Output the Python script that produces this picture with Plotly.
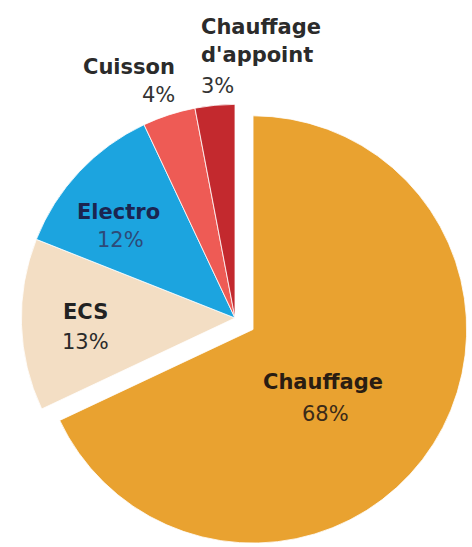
import plotly.graph_objects as go

W, H = 472, 560  # figure slightly taller than the 547 window; the bottom overflows

labels = ["Chauffage", "ECS", "Electro", "Cuisson", "Chauffage d'appoint"]
values = [68, 13, 12, 4, 3]
pcts = ["68%", "13%", "12%", "4%", "3%"]
colors = ["#E9A230", "#F3DEC4", "#1CA4DF", "#EE5B55", "#C3292E"]
pulls = [0.1, 0, 0, 0, 0]

# pie box in pixels (left, top, right, bottom)
BOX = (0, 83, 470, 553)

fig = go.Figure(go.Pie(
    labels=labels, values=values, sort=False, direction="clockwise", rotation=0,
    pull=pulls, marker=dict(colors=colors, line=dict(color="white", width=0.8)),
    textinfo="none", hoverinfo="label+percent", showlegend=False,
    domain=dict(x=[BOX[0] / W, BOX[2] / W], y=[1 - BOX[3] / H, 1 - BOX[1] / H]),
))

def px(x, y):
    return x / W, 1 - y / H

FAM = "DejaVu Sans, sans-serif"

# (text, x, y, anchor, color, bold)
ann_specs = [
    (labels[0], 323, 382, "center", "#2a1d12", True),
    (pcts[0], 325, 414, "center", "#3a2a18", False),
    (labels[1], 85, 312, "center", "#222222", True),
    (pcts[1], 85, 342, "center", "#2a2a2a", False),
    (labels[2], 118, 212, "center", "#1b2550", True),
    (pcts[2], 120, 240, "center", "#2d4a78", False),
    (labels[3], 177, 67, "right", "#2b2b2b", True),
    (pcts[3], 177, 95, "right", "#333333", False),
    ("Chauffage", 199, 27, "left", "#2b2b2b", True),
    ("d'appoint", 199, 55, "left", "#2b2b2b", True),
    (pcts[4], 199, 86, "left", "#333333", False),
]

annotations = []
for text, x, y, anchor, col, bold in ann_specs:
    ax, ay = px(x, y)
    annotations.append(dict(
        text=text, x=ax, y=ay, xref="paper", yref="paper",
        xanchor=anchor, yanchor="middle", showarrow=False,
        font=dict(family=FAM, size=21, color=col,
                  weight="bold" if bold else "normal"),
    ))

fig.update_layout(
    width=W, height=H, margin=dict(l=0, r=0, t=0, b=0),
    paper_bgcolor="white", plot_bgcolor="white",
    annotations=annotations,
)

fig.write_html(
    "out.html",
    config={"displayModeBar": False},
    post_script="document.body.style.margin='0';document.body.style.overflow='hidden';",
)
